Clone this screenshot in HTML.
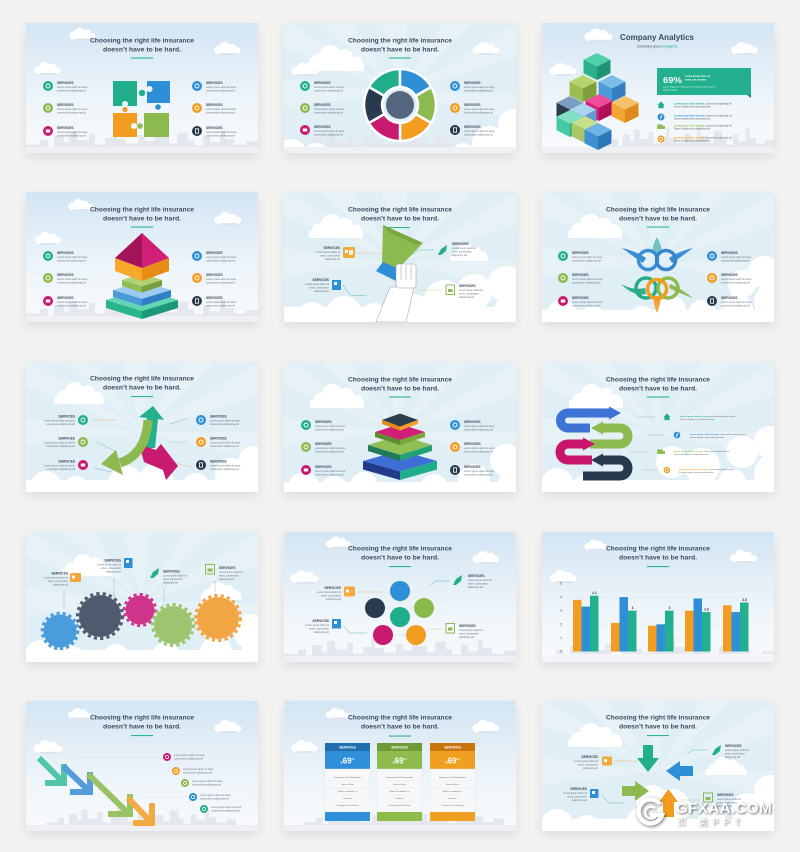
<!DOCTYPE html>
<html><head><meta charset="utf-8">
<style>
html,body{margin:0;padding:0}
body{width:800px;height:852px;background:#f2f2f2;position:relative;overflow:hidden;font-family:"Liberation Sans",sans-serif}
.s{position:absolute;width:232px;height:130px;box-shadow:0 4px 10px rgba(0,0,0,.09);overflow:hidden;background:#fff}
.s svg{display:block}
text{font-family:"Liberation Sans","Noto Sans CJK SC",sans-serif}
.tt{font-size:6.4px;font-weight:bold;fill:#3d4a5d;text-anchor:middle}
.sv{font-size:3.3px;font-weight:bold;fill:#3a4658}
.lo{font-size:2.5px;fill:#6b7380}
.svr{font-size:3.3px;font-weight:bold;fill:#3a4658;text-anchor:end}
.lor{font-size:2.5px;fill:#6b7380;text-anchor:end}
.bw{font-size:2.4px;fill:#fff}
</style></head><body>

<svg width="0" height="0" style="position:absolute">
<defs>
<linearGradient id="sky" x1="0" y1="0" x2="0" y2="1"><stop offset="0" stop-color="#d3e5f3"/><stop offset=".6" stop-color="#eef5fa"/><stop offset="1" stop-color="#f9fafc"/></linearGradient>
<symbol id="cloud" viewBox="0 0 40 16">
<ellipse cx="21" cy="13.5" rx="17" ry="2.5" fill="#dde3ea"/>
<circle cx="9" cy="10" r="5" fill="#fff"/><circle cx="17" cy="7" r="7" fill="#fff"/><circle cx="26" cy="7.5" r="5.5" fill="#fff"/><circle cx="33" cy="10.5" r="4" fill="#fff"/>
<rect x="8" y="9" width="27" height="4.5" fill="#fff"/>
</symbol>
<symbol id="wcloud" viewBox="0 0 40 16">
<circle cx="9" cy="11" r="5" fill="#fff"/><circle cx="17" cy="7" r="7" fill="#fff"/><circle cx="26" cy="8" r="5.5" fill="#fff"/><circle cx="33" cy="11" r="4" fill="#fff"/>
<rect x="2" y="11" width="36" height="5" fill="#fff"/>
</symbol>
<symbol id="city" viewBox="0 0 232 30" preserveAspectRatio="none"><g fill="#e4e8ee">
<rect x="0" y="22" width="14" height="8"/><rect x="14" y="18" width="8" height="12"/><rect x="22" y="24" width="6" height="6"/><rect x="28" y="14" width="10" height="16"/><rect x="38" y="20" width="5" height="10"/><rect x="43" y="10" width="8" height="20"/><rect x="51" y="18" width="12" height="12"/><rect x="63" y="12" width="6" height="18"/><rect x="69" y="22" width="10" height="8"/><rect x="79" y="16" width="8" height="14"/><rect x="87" y="8" width="4" height="22"/><rect x="91" y="17" width="9" height="13"/><rect x="100" y="21" width="12" height="9"/><rect x="112" y="13" width="7" height="17"/><rect x="119" y="19" width="9" height="11"/><rect x="128" y="6" width="5" height="24"/><rect x="133" y="15" width="10" height="15"/><rect x="143" y="21" width="8" height="9"/><rect x="151" y="11" width="11" height="19"/><rect x="162" y="18" width="6" height="12"/><rect x="168" y="23" width="9" height="7"/><rect x="177" y="14" width="7" height="16"/><rect x="184" y="20" width="10" height="10"/><rect x="194" y="9" width="5" height="21"/><rect x="199" y="17" width="9" height="13"/><rect x="208" y="22" width="12" height="8"/><rect x="220" y="19" width="12" height="11"/>
</g></symbol>
<symbol id="rays" viewBox="0 0 232 130">
<rect width="232" height="130" fill="#e0eef5"/>
<g fill="#f2f8fb" opacity=".4"><polygon points="116,70 -10,-10 -10,20"/><polygon points="116,70 25,-10 60,-10"/><polygon points="116,70 95,-10 125,-10"/><polygon points="116,70 165,-10 200,-10"/><polygon points="116,70 242,-5 242,30"/><polygon points="116,70 242,70 242,100"/><polygon points="116,70 -10,55 -10,85"/></g>
</symbol>
<symbol id="bc" viewBox="0 0 232 130"><g fill="#fff">
<circle cx="8" cy="130" r="14"/><circle cx="32" cy="134" r="14"/><circle cx="60" cy="136" r="12"/><circle cx="180" cy="134" r="14"/><circle cx="205" cy="120" r="17"/><circle cx="230" cy="102" r="16"/><circle cx="232" cy="126" r="18"/>
</g></symbol>
</defs>
</svg>

<!-- ROW 1 -->
<div class="s" style="left:26px;top:23px"><svg width="232" height="130" viewBox="0 0 232 130">
<rect width="232" height="130" fill="url(#sky)"/>
<use href="#city" x="0" y="98" width="232" height="32"/>
<rect y="124" width="232" height="6" fill="#eef0f4"/>
<use href="#cloud" x="40" y="4" width="32" height="14"/>
<use href="#cloud" x="183" y="19" width="36" height="13"/>
<use href="#cloud" x="3" y="39" width="36" height="13"/>
<text x="116" y="19.5" class="tt" textLength="104" lengthAdjust="spacingAndGlyphs">Choosing the right life insurance</text>
<text x="116" y="28.5" class="tt" textLength="78" lengthAdjust="spacingAndGlyphs">doesn’t have to be hard.</text>
<rect x="105" y="34.5" width="22" height="1.1" fill="#2bb39b"/>
<g transform="translate(22,63)"><circle r="5" fill="#21ae8c"/><circle r="2" fill="none" stroke="#fff" stroke-width=".9"/><text x="9" y="-1.8" class="sv">SERVICES</text><text x="9" y="2" class="lo">Lorem ipsum dolor sit amet,</text><text x="9" y="5.5" class="lo">consectetur adipiscing elit</text></g>
<g transform="translate(22,85)"><circle r="5" fill="#8cba4e"/><circle r="2" fill="none" stroke="#fff" stroke-width=".9"/><text x="9" y="-1.8" class="sv">SERVICES</text><text x="9" y="2" class="lo">Lorem ipsum dolor sit amet,</text><text x="9" y="5.5" class="lo">consectetur adipiscing elit</text></g>
<g transform="translate(22,108)"><circle r="5" fill="#c81a6e"/><rect x="-2.2" y="-1.5" width="4.4" height="3" fill="#fff"/><text x="9" y="-1.8" class="sv">SERVICES</text><text x="9" y="2" class="lo">Lorem ipsum dolor sit amet,</text><text x="9" y="5.5" class="lo">consectetur adipiscing elit</text></g>
<g transform="translate(171,63)"><circle r="5" fill="#2e8fd6"/><circle r="2" fill="none" stroke="#fff" stroke-width=".9"/><text x="9" y="-1.8" class="sv">SERVICES</text><text x="9" y="2" class="lo">Lorem ipsum dolor sit amet,</text><text x="9" y="5.5" class="lo">consectetur adipiscing elit</text></g>
<g transform="translate(171,85)"><circle r="5" fill="#f29c20"/><circle r="2" fill="none" stroke="#fff" stroke-width=".9"/><text x="9" y="-1.8" class="sv">SERVICES</text><text x="9" y="2" class="lo">Lorem ipsum dolor sit amet,</text><text x="9" y="5.5" class="lo">consectetur adipiscing elit</text></g>
<g transform="translate(171,108)"><circle r="5" fill="#263548"/><rect x="-1.6" y="-2.2" width="3.2" height="4.4" fill="none" stroke="#fff" stroke-width=".8"/><text x="9" y="-1.8" class="sv">SERVICES</text><text x="9" y="2" class="lo">Lorem ipsum dolor sit amet,</text><text x="9" y="5.5" class="lo">consectetur adipiscing elit</text></g>
<rect x="87" y="58" width="24" height="25" fill="#21ae8c"/>
<rect x="121" y="58" width="23" height="22" fill="#2e8fd6"/>
<rect x="87" y="90" width="24" height="24" fill="#f29c20"/>
<rect x="118" y="90" width="25" height="24" fill="#8cba4e"/>
<circle cx="116" cy="70" r="3.2" fill="#21ae8c"/>
<circle cx="123.5" cy="66" r="3" fill="#f2f7fb"/>
<circle cx="132" cy="84" r="2.8" fill="#2e8fd6"/>
<circle cx="99" cy="81" r="3" fill="#f2f7fb"/>
<circle cx="99" cy="86.5" r="2.6" fill="#f29c20"/>
<circle cx="108" cy="103" r="3" fill="#f7f9fb"/>
<circle cx="114" cy="103" r="2.8" fill="#8cba4e"/>
</svg></div>

<div class="s" style="left:284px;top:23px"><svg width="232" height="130" viewBox="0 0 232 130">
<use href="#rays" width="232" height="130"/>
<use href="#wcloud" x="18" y="22" width="66" height="26"/>
<use href="#cloud" x="184" y="19" width="35" height="13"/>
<use href="#cloud" x="4" y="40" width="33" height="13"/>
<use href="#city" x="0" y="100" width="232" height="30"/>
<use href="#bc" width="232" height="130"/>
<rect y="124" width="232" height="6" fill="#eff2f5"/>
<text x="116" y="19.5" class="tt" textLength="104" lengthAdjust="spacingAndGlyphs">Choosing the right life insurance</text>
<text x="116" y="28.5" class="tt" textLength="78" lengthAdjust="spacingAndGlyphs">doesn’t have to be hard.</text>
<rect x="105" y="34.5" width="22" height="1.1" fill="#2bb39b"/>
<g transform="translate(21,63)"><circle r="5" fill="#21ae8c"/><circle r="2" fill="none" stroke="#fff" stroke-width=".9"/><text x="9" y="-1.8" class="sv">SERVICES</text><text x="9" y="2" class="lo">Lorem ipsum dolor sit amet,</text><text x="9" y="5.5" class="lo">consectetur adipiscing elit</text></g>
<g transform="translate(21,85)"><circle r="5" fill="#8cba4e"/><circle r="2" fill="none" stroke="#fff" stroke-width=".9"/><text x="9" y="-1.8" class="sv">SERVICES</text><text x="9" y="2" class="lo">Lorem ipsum dolor sit amet,</text><text x="9" y="5.5" class="lo">consectetur adipiscing elit</text></g>
<g transform="translate(21,107)"><circle r="5" fill="#c81a6e"/><rect x="-2.2" y="-1.5" width="4.4" height="3" fill="#fff"/><text x="9" y="-1.8" class="sv">SERVICES</text><text x="9" y="2" class="lo">Lorem ipsum dolor sit amet,</text><text x="9" y="5.5" class="lo">consectetur adipiscing elit</text></g>
<g transform="translate(171,63)"><circle r="5" fill="#2e8fd6"/><circle r="2" fill="none" stroke="#fff" stroke-width=".9"/><text x="9" y="-1.8" class="sv">SERVICES</text><text x="9" y="2" class="lo">Lorem ipsum dolor sit amet,</text><text x="9" y="5.5" class="lo">consectetur adipiscing elit</text></g>
<g transform="translate(171,85)"><circle r="5" fill="#f29c20"/><circle r="2" fill="none" stroke="#fff" stroke-width=".9"/><text x="9" y="-1.8" class="sv">SERVICES</text><text x="9" y="2" class="lo">Lorem ipsum dolor sit amet,</text><text x="9" y="5.5" class="lo">consectetur adipiscing elit</text></g>
<g transform="translate(171,107)"><circle r="5" fill="#263548"/><rect x="-1.6" y="-2.2" width="3.2" height="4.4" fill="none" stroke="#fff" stroke-width=".8"/><text x="9" y="-1.8" class="sv">SERVICES</text><text x="9" y="2" class="lo">Lorem ipsum dolor sit amet,</text><text x="9" y="5.5" class="lo">consectetur adipiscing elit</text></g>
<g stroke="#fff" stroke-width="2.5" stroke-linejoin="round">
<path d="M84.82 64 A36 36 0 0 1 116 46 L116 64 A18 18 0 0 0 100.41 73 Z" fill="#21ae8c"/>
<path d="M116 46 A36 36 0 0 1 147.18 64 L131.59 73 A18 18 0 0 0 116 64 Z" fill="#2e8fd6"/>
<path d="M147.18 64 A36 36 0 0 1 147.18 100 L131.59 91 A18 18 0 0 0 131.59 73 Z" fill="#8cba4e"/>
<path d="M147.18 100 A36 36 0 0 1 116 118 L116 100 A18 18 0 0 0 131.59 91 Z" fill="#f29c20"/>
<path d="M116 118 A36 36 0 0 1 84.82 100 L100.41 91 A18 18 0 0 0 116 100 Z" fill="#c81a6e"/>
<path d="M84.82 100 A36 36 0 0 1 84.82 64 L100.41 73 A18 18 0 0 0 100.41 91 Z" fill="#2a3a4e"/>
</g>
<circle cx="116" cy="82" r="14" fill="#56657e"/>
</svg></div>

<div class="s" style="left:542px;top:23px"><svg width="232" height="130" viewBox="0 0 232 130">
<rect width="232" height="130" fill="url(#sky)"/>
<use href="#city" x="60" y="95" width="172" height="35"/>
<rect y="124" width="232" height="6" fill="#eef0f4"/>
<use href="#cloud" x="39" y="5" width="34" height="14"/>
<use href="#cloud" x="185" y="19" width="34" height="13"/>
<use href="#cloud" x="3" y="40" width="35" height="13"/>
<text x="115" y="17" font-size="8.6" font-weight="bold" fill="#3b4a5e" text-anchor="middle" textLength="74" lengthAdjust="spacingAndGlyphs">Company Analytics</text>
<text x="115" y="24.5" font-size="3.2" text-anchor="middle" fill="#555"><tspan>Something about </tspan><tspan fill="#21ae8c">infographic</tspan></text>
<g transform="translate(55,30)"><polygon points="0,0 13.5,6.75 0,13.5 -13.5,6.75" fill="#4fd0a8"/><polygon points="-13.5,6.75 0,13.5 0,27 -13.5,20.25" fill="#2bb08a"/><polygon points="0,13.5 13.5,6.75 13.5,20.25 0,27" fill="#1e9475"/></g>
<g transform="translate(41,52)"><polygon points="0,0 13.5,6.75 0,13.5 -13.5,6.75" fill="#b5d36e"/><polygon points="-13.5,6.75 0,13.5 0,27 -13.5,20.25" fill="#9abd50"/><polygon points="0,13.5 13.5,6.75 13.5,20.25 0,27" fill="#7f9f3c"/></g>
<g transform="translate(70,52)"><polygon points="0,0 13.5,6.75 0,13.5 -13.5,6.75" fill="#7bbce8"/><polygon points="-13.5,6.75 0,13.5 0,27 -13.5,20.25" fill="#4a9bd8"/><polygon points="0,13.5 13.5,6.75 13.5,20.25 0,27" fill="#347fc0"/></g>
<g transform="translate(28,73)"><polygon points="0,0 13.5,6.75 0,13.5 -13.5,6.75" fill="#7d9cc2"/><polygon points="-13.5,6.75 0,13.5 0,27 -13.5,20.25" fill="#2a3a4f"/><polygon points="0,13.5 13.5,6.75 13.5,20.25 0,27" fill="#55749c"/></g>
<g transform="translate(57,71)"><polygon points="0,0 13.5,6.75 0,13.5 -13.5,6.75" fill="#ef4b9a"/><polygon points="-13.5,6.75 0,13.5 0,27 -13.5,20.25" fill="#d81b72"/><polygon points="0,13.5 13.5,6.75 13.5,20.25 0,27" fill="#b0105a"/></g>
<g transform="translate(83,73)"><polygon points="0,0 13.5,6.75 0,13.5 -13.5,6.75" fill="#f7c06a"/><polygon points="-13.5,6.75 0,13.5 0,27 -13.5,20.25" fill="#f2a532"/><polygon points="0,13.5 13.5,6.75 13.5,20.25 0,27" fill="#e08a1a"/></g>
<g transform="translate(41,80)"><polygon points="0,0 13.5,6.75 0,13.5 -13.5,6.75" fill="#a9d4f2"/><polygon points="-13.5,6.75 0,13.5 0,27 -13.5,20.25" fill="#7cb7e3"/><polygon points="0,13.5 13.5,6.75 13.5,20.25 0,27" fill="#5e9dcf"/></g>
<g transform="translate(28,87)"><polygon points="0,0 13.5,6.75 0,13.5 -13.5,6.75" fill="#7fe0c2"/><polygon points="-13.5,6.75 0,13.5 0,27 -13.5,20.25" fill="#45c9a2"/><polygon points="0,13.5 13.5,6.75 13.5,20.25 0,27" fill="#2faa86"/></g>
<g transform="translate(43,93)"><polygon points="0,0 13.5,6.75 0,13.5 -13.5,6.75" fill="#c8df8e"/><polygon points="-13.5,6.75 0,13.5 0,27 -13.5,20.25" fill="#a9c865"/><polygon points="0,13.5 13.5,6.75 13.5,20.25 0,27" fill="#8aab4a"/></g>
<g transform="translate(56,100)"><polygon points="0,0 13.5,6.75 0,13.5 -13.5,6.75" fill="#6fb2e6"/><polygon points="-13.5,6.75 0,13.5 0,27 -13.5,20.25" fill="#3f90d3"/><polygon points="0,13.5 13.5,6.75 13.5,20.25 0,27" fill="#2c77ba"/></g>
<rect x="115" y="45" width="94" height="27" fill="#22b08e"/>
<polygon points="205,72 209,72 209,75" fill="#178a6e"/>
<text x="121" y="60" font-size="8" font-weight="bold" fill="#fff" textLength="19" lengthAdjust="spacingAndGlyphs">69%</text>
<text x="143" y="54" class="bw" font-weight="bold">Lorem ipsum dolor sit</text>
<text x="143" y="57.5" class="bw" font-weight="bold">amet, con sectetur</text>
<text x="121" y="64.5" font-size="2" fill="#fff">Donec fringilla erat malesuada ante tristique ullamcorper id</text>
<text x="121" y="67.5" font-size="2" fill="#fff">vulputate augue.</text>
<g transform="translate(119,82)"><polygon points="-3.5,0 0,-3.5 3.5,0" fill="#21ae8c"/><rect x="-2.6" y="0" width="5.2" height="3.2" fill="#21ae8c"/></g>
<g transform="translate(119,94)"><circle r="3.5" fill="#2e8fd6"/><line x1="-1" y1="2" x2="1" y2="-2" stroke="#fff" stroke-width=".9"/></g>
<g transform="translate(119,104)"><rect x="-3.8" y="-2.5" width="5.5" height="4.5" fill="#8cba4e"/><rect x="1.7" y="-1" width="2.3" height="3" fill="#8cba4e"/></g>
<g transform="translate(119,116)"><circle r="3.5" fill="#f29c20"/><circle r="1.6" fill="none" stroke="#fff" stroke-width=".7"/></g>
<text x="132" y="81.5" font-size="2.3"><tspan fill="#21ae8c" font-weight="bold">Lorem ipsum dolor sit amet,</tspan><tspan fill="#666"> consectetur adipiscing elit.</tspan></text>
<text x="132" y="84.5" font-size="2.3" fill="#666">Donec fringilla erat malesuada ante.</text>
<text x="132" y="93.5" font-size="2.3"><tspan fill="#2e8fd6" font-weight="bold">Lorem ipsum dolor sit amet,</tspan><tspan fill="#666"> consectetur adipiscing elit.</tspan></text>
<text x="132" y="96.5" font-size="2.3" fill="#666">Donec fringilla erat malesuada ante.</text>
<text x="132" y="103.5" font-size="2.3"><tspan fill="#8cba4e" font-weight="bold">Lorem ipsum dolor sit amet,</tspan><tspan fill="#666"> consectetur adipiscing elit.</tspan></text>
<text x="132" y="106.5" font-size="2.3" fill="#666">Donec fringilla erat malesuada ante.</text>
<text x="132" y="115.5" font-size="2.3"><tspan fill="#f29c20" font-weight="bold">Lorem ipsum dolor sit amet,</tspan><tspan fill="#666"> consectetur adipiscing elit.</tspan></text>
<text x="132" y="118.5" font-size="2.3" fill="#666">Donec fringilla erat malesuada ante.</text>
</svg></div>

<!-- ROW 2 -->
<div class="s" style="left:26px;top:192px"><svg width="232" height="130" viewBox="0 0 232 130">
<rect width="232" height="130" fill="url(#sky)"/>
<use href="#city" x="0" y="98" width="232" height="32"/>
<rect y="124" width="232" height="6" fill="#eef0f4"/>
<use href="#cloud" x="39" y="6" width="30" height="14"/>
<use href="#cloud" x="184" y="20" width="35" height="13"/>
<use href="#cloud" x="4" y="40" width="35" height="13"/>
<text x="116" y="19.5" class="tt" textLength="104" lengthAdjust="spacingAndGlyphs">Choosing the right life insurance</text>
<text x="116" y="28.5" class="tt" textLength="78" lengthAdjust="spacingAndGlyphs">doesn’t have to be hard.</text>
<rect x="105" y="34.5" width="22" height="1.1" fill="#2bb39b"/>
<g transform="translate(22,64)"><circle r="5" fill="#21ae8c"/><circle r="2" fill="none" stroke="#fff" stroke-width=".9"/><text x="9" y="-1.8" class="sv">SERVICES</text><text x="9" y="2" class="lo">Lorem ipsum dolor sit amet,</text><text x="9" y="5.5" class="lo">consectetur adipiscing elit</text></g>
<g transform="translate(22,86)"><circle r="5" fill="#8cba4e"/><circle r="2" fill="none" stroke="#fff" stroke-width=".9"/><text x="9" y="-1.8" class="sv">SERVICES</text><text x="9" y="2" class="lo">Lorem ipsum dolor sit amet,</text><text x="9" y="5.5" class="lo">consectetur adipiscing elit</text></g>
<g transform="translate(22,109)"><circle r="5" fill="#c81a6e"/><rect x="-2.2" y="-1.5" width="4.4" height="3" fill="#fff"/><text x="9" y="-1.8" class="sv">SERVICES</text><text x="9" y="2" class="lo">Lorem ipsum dolor sit amet,</text><text x="9" y="5.5" class="lo">consectetur adipiscing elit</text></g>
<g transform="translate(171,64)"><circle r="5" fill="#2e8fd6"/><circle r="2" fill="none" stroke="#fff" stroke-width=".9"/><text x="9" y="-1.8" class="sv">SERVICES</text><text x="9" y="2" class="lo">Lorem ipsum dolor sit amet,</text><text x="9" y="5.5" class="lo">consectetur adipiscing elit</text></g>
<g transform="translate(171,86)"><circle r="5" fill="#f29c20"/><circle r="2" fill="none" stroke="#fff" stroke-width=".9"/><text x="9" y="-1.8" class="sv">SERVICES</text><text x="9" y="2" class="lo">Lorem ipsum dolor sit amet,</text><text x="9" y="5.5" class="lo">consectetur adipiscing elit</text></g>
<g transform="translate(171,109)"><circle r="5" fill="#263548"/><rect x="-1.6" y="-2.2" width="3.2" height="4.4" fill="none" stroke="#fff" stroke-width=".8"/><text x="9" y="-1.8" class="sv">SERVICES</text><text x="9" y="2" class="lo">Lorem ipsum dolor sit amet,</text><text x="9" y="5.5" class="lo">consectetur adipiscing elit</text></g>
<polygon points="80,108 116,97 152,108 116,119" fill="#63d6b4"/>
<polygon points="80,108 116,119 116,127 80,116" fill="#2ab48c"/>
<polygon points="116,119 152,108 152,116 116,127" fill="#1b977a"/>
<polygon points="87,98 116,89 145,98 116,107" fill="#9ccbee"/>
<polygon points="87,98 116,107 116,114 87,105" fill="#4a9ad9"/>
<polygon points="116,107 145,98 145,105 116,114" fill="#2f7fc4"/>
<polygon points="96,88 116,81.5 136,88 116,94.5" fill="#b2d173"/>
<polygon points="96,88 116,94.5 116,100.5 96,94" fill="#93bb54"/>
<polygon points="116,94.5 136,88 136,94 116,100.5" fill="#76a03f"/>
<polygon points="89,66 116,76 116,89 89,79" fill="#f6a929"/>
<polygon points="116,76 143,66 143,79 116,89" fill="#e58d17"/>
<polygon points="116,41 89,66 116,76" fill="#a3145a"/>
<polygon points="116,41 116,76 143,66" fill="#cf1f76"/>
</svg></div>

<div class="s" style="left:284px;top:192px"><svg width="232" height="130" viewBox="0 0 232 130">
<use href="#rays" width="232" height="130"/>
<use href="#wcloud" x="20" y="22" width="64" height="24"/>
<use href="#wcloud" x="162" y="52" width="46" height="17"/>
<g fill="#fff"><circle cx="160" cy="108" r="20"/><circle cx="190" cy="100" r="18"/><circle cx="222" cy="92" r="18"/><circle cx="230" cy="120" r="20"/><circle cx="130" cy="118" r="16"/><circle cx="60" cy="122" r="18"/><circle cx="28" cy="126" r="16"/><circle cx="90" cy="125" r="14"/><rect x="0" y="115" width="232" height="15"/></g>
<text x="116" y="19.5" class="tt" textLength="104" lengthAdjust="spacingAndGlyphs">Choosing the right life insurance</text>
<text x="116" y="28.5" class="tt" textLength="78" lengthAdjust="spacingAndGlyphs">doesn’t have to be hard.</text>
<rect x="100" y="35" width="26" height="1.1" fill="#2bb39b"/>
<polygon points="99,33 139,51 114,77 98,73" fill="#8cba4e"/>
<polygon points="99,33 139,51 132,53 104,40" fill="#7aa840"/>
<polygon points="92,79 99,70 132,84 126,96" fill="#2e8fd6"/>
<g fill="#fff" stroke="#8d97a6" stroke-width=".5">
<path d="M106,95 L130,95 L122,130 L92,130 Z"/>
<rect x="112" y="72" width="20" height="24" rx="3"/>
<path d="M117,73 V88 M122,73 V88 M127,73 V88" fill="none"/>
</g>
<text x="56" y="57" class="svr">SERVICES</text>
<text x="56" y="61" class="lor">Lorem ipsum dolor sit</text><text x="56" y="64.5" class="lor">amet, consectetur</text><text x="56" y="68" class="lor">adipiscing elit</text>
<rect x="59" y="55" width="12" height="11" rx="1.5" fill="#f2a93a"/><rect x="61" y="58" width="3" height="3" fill="#fff"/><rect x="65" y="58" width="4" height="5" fill="#fff" opacity=".8"/>
<line x1="73" y1="61" x2="98" y2="61" stroke="#e9b36a" stroke-width=".4"/>
<text x="45" y="89" class="svr">SERVICES</text>
<text x="45" y="93" class="lor">Lorem ipsum dolor sit</text><text x="45" y="96.5" class="lor">amet, consectetur</text><text x="45" y="100" class="lor">adipiscing elit</text>
<rect x="48" y="88" width="9" height="10" fill="#2e8fd6"/><rect x="50" y="90" width="3" height="3" fill="#fff"/>
<polyline points="59,93 66,103 83,104" fill="none" stroke="#3aa9a0" stroke-width=".4"/>
<polygon points="154,63 157,57 163,53 162,59 157,63" fill="#21ae8c"/>
<text x="168" y="53" class="sv">SERVICES</text>
<text x="168" y="57" class="lo">Lorem ipsum dolor sit</text><text x="168" y="60.5" class="lo">amet, consectetur</text><text x="168" y="64" class="lo">adipiscing elit</text>
<polyline points="129,63 134,58 150,58" fill="none" stroke="#3aa9a0" stroke-width=".4"/>
<rect x="162" y="93" width="8.5" height="9.5" fill="none" stroke="#8cba4e" stroke-width="1"/><rect x="164" y="97" width="4.5" height="3" fill="#8cba4e"/>
<text x="175" y="95" class="sv">SERVICES</text>
<text x="175" y="99" class="lo">Lorem ipsum dolor sit</text><text x="175" y="102.5" class="lo">amet, consectetur</text><text x="175" y="106" class="lo">adipiscing elit</text>
<line x1="134" y1="98" x2="158" y2="98" stroke="#b5c96a" stroke-width=".4"/>
</svg></div>

<div class="s" style="left:542px;top:192px"><svg width="232" height="130" viewBox="0 0 232 130">
<use href="#rays" width="232" height="130"/>
<use href="#wcloud" x="20" y="22" width="66" height="24"/>
<g fill="#fff"><circle cx="200" cy="92" r="14"/><circle cx="222" cy="80" r="16"/><circle cx="232" cy="110" r="20"/><circle cx="195" cy="118" r="16"/><circle cx="160" cy="122" r="14"/><circle cx="20" cy="124" r="16"/><circle cx="50" cy="128" r="14"/><circle cx="100" cy="128" r="14"/><circle cx="130" cy="118" r="14"/><rect x="0" y="118" width="232" height="12"/></g>
<text x="116" y="19.5" class="tt" textLength="104" lengthAdjust="spacingAndGlyphs">Choosing the right life insurance</text>
<text x="116" y="28.5" class="tt" textLength="78" lengthAdjust="spacingAndGlyphs">doesn’t have to be hard.</text>
<rect x="105" y="34.5" width="22" height="1.1" fill="#2bb39b"/>
<g transform="translate(21,64)"><circle r="5" fill="#21ae8c"/><circle r="2" fill="none" stroke="#fff" stroke-width=".9"/><text x="9" y="-1.8" class="sv">SERVICES</text><text x="9" y="2" class="lo">Lorem ipsum dolor sit amet,</text><text x="9" y="5.5" class="lo">consectetur adipiscing elit</text></g>
<g transform="translate(21,86)"><circle r="5" fill="#8cba4e"/><circle r="2" fill="none" stroke="#fff" stroke-width=".9"/><text x="9" y="-1.8" class="sv">SERVICES</text><text x="9" y="2" class="lo">Lorem ipsum dolor sit amet,</text><text x="9" y="5.5" class="lo">consectetur adipiscing elit</text></g>
<g transform="translate(21,109)"><circle r="5" fill="#c81a6e"/><rect x="-2.2" y="-1.5" width="4.4" height="3" fill="#fff"/><text x="9" y="-1.8" class="sv">SERVICES</text><text x="9" y="2" class="lo">Lorem ipsum dolor sit amet,</text><text x="9" y="5.5" class="lo">consectetur adipiscing elit</text></g>
<g transform="translate(170,64)"><circle r="5" fill="#2e8fd6"/><circle r="2" fill="none" stroke="#fff" stroke-width=".9"/><text x="9" y="-1.8" class="sv">SERVICES</text><text x="9" y="2" class="lo">Lorem ipsum dolor sit amet,</text><text x="9" y="5.5" class="lo">consectetur adipiscing elit</text></g>
<g transform="translate(170,86)"><circle r="5" fill="#f29c20"/><circle r="2" fill="none" stroke="#fff" stroke-width=".9"/><text x="9" y="-1.8" class="sv">SERVICES</text><text x="9" y="2" class="lo">Lorem ipsum dolor sit amet,</text><text x="9" y="5.5" class="lo">consectetur adipiscing elit</text></g>
<g transform="translate(170,109)"><circle r="5" fill="#263548"/><rect x="-1.6" y="-2.2" width="3.2" height="4.4" fill="none" stroke="#fff" stroke-width=".8"/><text x="9" y="-1.8" class="sv">SERVICES</text><text x="9" y="2" class="lo">Lorem ipsum dolor sit amet,</text><text x="9" y="5.5" class="lo">consectetur adipiscing elit</text></g>
<path d="M104,66 C95,60 88,58 80,56 C88,62 95,67 101,71 Z" fill="#3a8fd4"/>
<path d="M127,66 C136,60 143,58 151,56 C143,62 136,67 130,71 Z" fill="#3a8fd4"/>
<path d="M115,45 C111,52 110,57 111,62 L119,62 C120,57 119,52 115,45 Z" fill="#6ec3c0"/>
<path d="M103,96 C94,98 86,96 79,92 C87,100 96,104 104,102 Z" fill="#2bb08c"/>
<path d="M127,96 C136,100 144,104 151,106 C143,100 136,95 128,92 Z" fill="#8cba4e"/>
<path d="M115,121 C112,113 111,109 112,104 L118,104 C119,109 118,113 115,121 Z" fill="#f2a33a"/>
<g fill="none" stroke-width="3.5">
<circle cx="106" cy="68" r="9.5" stroke="#3a8fd4"/>
<circle cx="124" cy="68" r="9.5" stroke="#3585cc"/>
<circle cx="104" cy="96" r="10" stroke="#26ab8a"/>
<circle cx="126" cy="96" r="10" stroke="#8cba4e"/>
<circle cx="115" cy="97" r="9.5" stroke="#f29c20"/>
</g>
</svg></div>

<!-- ROW 3 -->
<div class="s" style="left:26px;top:362px"><svg width="232" height="130" viewBox="0 0 232 130">
<use href="#rays" width="232" height="130"/>
<use href="#wcloud" x="22" y="20" width="62" height="22"/>
<g fill="#fff"><circle cx="20" cy="125" r="16"/><circle cx="50" cy="128" r="14"/><circle cx="100" cy="122" r="18"/><circle cx="130" cy="120" r="18"/><circle cx="170" cy="125" r="14"/><circle cx="205" cy="112" r="16"/><circle cx="228" cy="100" r="16"/><circle cx="232" cy="124" r="18"/><rect x="0" y="118" width="232" height="12"/></g>
<text x="116" y="18.5" class="tt" textLength="104" lengthAdjust="spacingAndGlyphs">Choosing the right life insurance</text>
<text x="116" y="27.5" class="tt" textLength="78" lengthAdjust="spacingAndGlyphs">doesn’t have to be hard.</text>
<rect x="105" y="34" width="22" height="1.1" fill="#2bb39b"/>
<g transform="translate(57,58)"><circle r="5" fill="#21ae8c"/><circle r="2" fill="none" stroke="#fff" stroke-width=".9"/><text x="-8" y="-2.5" class="svr">SERVICES</text><text x="-8" y="1.5" class="lor">Lorem ipsum dolor sit amet,</text><text x="-8" y="5" class="lor">consectetur adipiscing elit</text></g>
<g transform="translate(57,80)"><circle r="5" fill="#8cba4e"/><circle r="2" fill="none" stroke="#fff" stroke-width=".9"/><text x="-8" y="-2.5" class="svr">SERVICES</text><text x="-8" y="1.5" class="lor">Lorem ipsum dolor sit amet,</text><text x="-8" y="5" class="lor">consectetur adipiscing elit</text></g>
<g transform="translate(57,103)"><circle r="5" fill="#c81a6e"/><rect x="-2.2" y="-1.5" width="4.4" height="3" fill="#fff"/><text x="-8" y="-2.5" class="svr">SERVICES</text><text x="-8" y="1.5" class="lor">Lorem ipsum dolor sit amet,</text><text x="-8" y="5" class="lor">consectetur adipiscing elit</text></g>
<g transform="translate(175,58)"><circle r="5" fill="#2e8fd6"/><circle r="2" fill="none" stroke="#fff" stroke-width=".9"/><text x="9" y="-2.5" class="sv">SERVICES</text><text x="9" y="1.5" class="lo">Lorem ipsum dolor sit amet,</text><text x="9" y="5" class="lo">consectetur adipiscing elit</text></g>
<g transform="translate(175,80)"><circle r="5" fill="#f29c20"/><circle r="2" fill="none" stroke="#fff" stroke-width=".9"/><text x="9" y="-2.5" class="sv">SERVICES</text><text x="9" y="1.5" class="lo">Lorem ipsum dolor sit amet,</text><text x="9" y="5" class="lo">consectetur adipiscing elit</text></g>
<g transform="translate(175,103)"><circle r="5" fill="#263548"/><rect x="-1.6" y="-2.2" width="3.2" height="4.4" fill="none" stroke="#fff" stroke-width=".8"/><text x="9" y="-2.5" class="sv">SERVICES</text><text x="9" y="1.5" class="lo">Lorem ipsum dolor sit amet,</text><text x="9" y="5" class="lo">consectetur adipiscing elit</text></g>
<g stroke-width=".4" fill="none">
<line x1="67" y1="58" x2="91" y2="58" stroke="#e0b070"/>
<line x1="71" y1="80" x2="91" y2="90" stroke="#7ab"/>
<line x1="67" y1="106" x2="86" y2="110" stroke="#7ab"/>
<line x1="144" y1="62" x2="162" y2="56" stroke="#7ab"/>
<line x1="141" y1="80" x2="162" y2="80" stroke="#9c9"/>
<line x1="134" y1="98" x2="166" y2="105" stroke="#e0b070"/>
</g>
<polygon points="127,44 138,58 132,57 129,86 117,86 121,56 113,55" fill="#23b08e"/>
<polygon points="113,82 130,88 135,82 152,104 140,118 137,108 118,100" fill="#c81a6e"/>
<path d="M122,58 Q120,92 94,101" fill="none" stroke="#8cba4e" stroke-width="9"/>
<polygon points="90,88 75,102 97,113" fill="#8cba4e"/>
</svg></div>

<div class="s" style="left:284px;top:362px"><svg width="232" height="130" viewBox="0 0 232 130">
<use href="#rays" width="232" height="130"/>
<use href="#wcloud" x="20" y="22" width="66" height="24"/>
<g fill="#fff"><circle cx="20" cy="126" r="16"/><circle cx="50" cy="128" r="14"/><circle cx="80" cy="124" r="14"/><circle cx="150" cy="126" r="14"/><circle cx="190" cy="118" r="16"/><circle cx="222" cy="98" r="16"/><circle cx="232" cy="122" r="18"/><rect x="0" y="120" width="232" height="10"/></g>
<text x="116" y="19.5" class="tt" textLength="104" lengthAdjust="spacingAndGlyphs">Choosing the right life insurance</text>
<text x="116" y="28.5" class="tt" textLength="78" lengthAdjust="spacingAndGlyphs">doesn’t have to be hard.</text>
<rect x="105" y="34.5" width="22" height="1.1" fill="#2bb39b"/>
<g transform="translate(22,63)"><circle r="5" fill="#21ae8c"/><circle r="2" fill="none" stroke="#fff" stroke-width=".9"/><text x="9" y="-1.8" class="sv">SERVICES</text><text x="9" y="2" class="lo">Lorem ipsum dolor sit amet,</text><text x="9" y="5.5" class="lo">consectetur adipiscing elit</text></g>
<g transform="translate(22,85)"><circle r="5" fill="#8cba4e"/><circle r="2" fill="none" stroke="#fff" stroke-width=".9"/><text x="9" y="-1.8" class="sv">SERVICES</text><text x="9" y="2" class="lo">Lorem ipsum dolor sit amet,</text><text x="9" y="5.5" class="lo">consectetur adipiscing elit</text></g>
<g transform="translate(22,108)"><circle r="5" fill="#c81a6e"/><rect x="-2.2" y="-1.5" width="4.4" height="3" fill="#fff"/><text x="9" y="-1.8" class="sv">SERVICES</text><text x="9" y="2" class="lo">Lorem ipsum dolor sit amet,</text><text x="9" y="5.5" class="lo">consectetur adipiscing elit</text></g>
<g transform="translate(171,63)"><circle r="5" fill="#2e8fd6"/><circle r="2" fill="none" stroke="#fff" stroke-width=".9"/><text x="9" y="-1.8" class="sv">SERVICES</text><text x="9" y="2" class="lo">Lorem ipsum dolor sit amet,</text><text x="9" y="5.5" class="lo">consectetur adipiscing elit</text></g>
<g transform="translate(171,85)"><circle r="5" fill="#f29c20"/><circle r="2" fill="none" stroke="#fff" stroke-width=".9"/><text x="9" y="-1.8" class="sv">SERVICES</text><text x="9" y="2" class="lo">Lorem ipsum dolor sit amet,</text><text x="9" y="5.5" class="lo">consectetur adipiscing elit</text></g>
<g transform="translate(171,108)"><circle r="5" fill="#263548"/><rect x="-1.6" y="-2.2" width="3.2" height="4.4" fill="none" stroke="#fff" stroke-width=".8"/><text x="9" y="-1.8" class="sv">SERVICES</text><text x="9" y="2" class="lo">Lorem ipsum dolor sit amet,</text><text x="9" y="5.5" class="lo">consectetur adipiscing elit</text></g>
<polygon points="79,99 116,88.5 153,99 116,109.5" fill="#3f6fd6"/>
<polygon points="79,99 116,109.5 116,118 79,107.5" fill="#1f3b8a"/>
<polygon points="116,109.5 153,99 153,107.5 116,118" fill="#1fae8a"/>
<polygon points="84,83 116,73 148,83 116,93" fill="#8fbf55"/>
<polygon points="84,83 116,93 116,99 84,89" fill="#1f7a5c"/>
<polygon points="116,93 148,83 148,89 116,99" fill="#22a079"/>
<polygon points="91,70 116,62 141,70 116,78" fill="#d11f78"/>
<polygon points="91,70 116,78 116,83 91,75" fill="#5f8a2f"/>
<polygon points="116,78 141,70 141,75 116,83" fill="#7da63a"/>
<polygon points="98,58 116,51.5 134,58 116,64.5" fill="#2c3d50"/>
<polygon points="98,58 116,64.5 116,68.5 98,62" fill="#e58b17"/>
<polygon points="116,64.5 134,58 134,62 116,68.5" fill="#f2a22a"/>
</svg></div>

<div class="s" style="left:542px;top:362px"><svg width="232" height="130" viewBox="0 0 232 130">
<use href="#rays" width="232" height="130"/>
<use href="#wcloud" x="22" y="22" width="64" height="24"/>
<g fill="#fff"><circle cx="15" cy="122" r="16"/><circle cx="45" cy="126" r="14"/><circle cx="130" cy="100" r="16"/><circle cx="160" cy="104" r="18"/><circle cx="200" cy="90" r="16"/><circle cx="228" cy="80" r="16"/><circle cx="232" cy="112" r="20"/><circle cx="190" cy="120" r="14"/><rect x="0" y="118" width="232" height="12"/></g>
<text x="116" y="19.5" class="tt" textLength="104" lengthAdjust="spacingAndGlyphs">Choosing the right life insurance</text>
<text x="116" y="28.5" class="tt" textLength="78" lengthAdjust="spacingAndGlyphs">doesn’t have to be hard.</text>
<rect x="105" y="34.5" width="22" height="1.1" fill="#2bb39b"/>
<path d="M48,66 H26 A7.5,7.5 0 0 1 26,51 H68" fill="none" stroke="#3e73d6" stroke-width="9"/>
<polygon points="67,44.5 79,51 67,57.5" fill="#3e73d6"/>
<path d="M48,82 H78 A7.5,7.5 0 0 0 78,66 H60" fill="none" stroke="#8cba4e" stroke-width="9"/>
<polygon points="61,59.5 49,66 61,72.5" fill="#8cba4e"/>
<path d="M50,98 H26 A7.5,7.5 0 0 1 26,82 H42" fill="none" stroke="#c8176b" stroke-width="9"/>
<polygon points="41,75.5 53,82 41,88.5" fill="#c8176b"/>
<path d="M41,114 H78 A7.5,7.5 0 0 0 78,98 H60" fill="none" stroke="#2a3a4e" stroke-width="9"/>
<polygon points="61,91.5 49,98 61,104.5" fill="#2a3a4e"/>
<g stroke="#a9b4c0" stroke-width=".5"><line x1="96" y1="55" x2="113" y2="55"/><line x1="106" y1="73" x2="123" y2="73"/><line x1="88" y1="90" x2="105" y2="90"/><line x1="100" y1="108" x2="116" y2="108"/></g>
<g transform="translate(125,55)"><polygon points="-3.5,0 0,-3.5 3.5,0" fill="#21ae8c"/><rect x="-2.6" y="0" width="5.2" height="3.2" fill="#21ae8c"/></g>
<g transform="translate(135,73)"><circle r="3.3" fill="#2e8fd6"/><line x1="-1" y1="2" x2="1" y2="-2" stroke="#fff" stroke-width=".9"/></g>
<g transform="translate(119,90)"><rect x="-3.8" y="-2.5" width="5.5" height="4.5" fill="#8cba4e"/><rect x="1.7" y="-1" width="2.3" height="3" fill="#8cba4e"/></g>
<g transform="translate(125,108)"><circle r="3.3" fill="#f29c20"/><circle r="1.5" fill="none" stroke="#fff" stroke-width=".7"/></g>
<text x="138" y="55" font-size="2.2"><tspan fill="#21ae8c" font-weight="bold">Lorem ipsum dolor sit amet,</tspan><tspan fill="#666"> consectetur adipiscing elit.</tspan></text>
<text x="138" y="58" font-size="2.2" fill="#666">Donec fringilla erat malesuada ante.</text>
<text x="148" y="73" font-size="2.2"><tspan fill="#2e8fd6" font-weight="bold">Lorem ipsum dolor sit amet,</tspan><tspan fill="#666"> consectetur adipiscing elit.</tspan></text>
<text x="148" y="76" font-size="2.2" fill="#666">Donec fringilla erat malesuada ante.</text>
<text x="132" y="90" font-size="2.2"><tspan fill="#8cba4e" font-weight="bold">Lorem ipsum dolor sit amet,</tspan><tspan fill="#666"> consectetur adipiscing elit.</tspan></text>
<text x="132" y="93" font-size="2.2" fill="#666">Donec fringilla erat malesuada ante.</text>
<text x="137" y="108" font-size="2.2"><tspan fill="#f29c20" font-weight="bold">Lorem ipsum dolor sit amet,</tspan><tspan fill="#666"> consectetur adipiscing elit.</tspan></text>
<text x="137" y="111" font-size="2.2" fill="#666">Donec fringilla erat malesuada ante.</text>
</svg></div>

<!-- ROW 4 -->
<div class="s" style="left:26px;top:532px"><svg width="232" height="130" viewBox="0 0 232 130">
<use href="#rays" width="232" height="130"/>
<use href="#wcloud" x="30" y="22" width="62" height="22"/>
<use href="#wcloud" x="170" y="50" width="50" height="18"/>
<g fill="#fff"><circle cx="15" cy="124" r="16"/><circle cx="45" cy="128" r="14"/><circle cx="90" cy="126" r="14"/><circle cx="140" cy="124" r="14"/><circle cx="190" cy="120" r="16"/><circle cx="226" cy="100" r="18"/><circle cx="232" cy="124" r="18"/><rect x="0" y="118" width="232" height="12"/></g>
<g stroke="#aab5c1" stroke-width=".5"><line x1="38" y1="60" x2="38" y2="77"/><line x1="88" y1="48" x2="88" y2="76"/><line x1="138" y1="58" x2="138" y2="75"/><line x1="189" y1="50" x2="189" y2="74"/></g>
<g fill="#aab5c1"><circle cx="38" cy="60" r=".8"/><circle cx="88" cy="48" r=".8"/><circle cx="138" cy="58" r=".8"/><circle cx="189" cy="50" r=".8"/></g>
<circle cx="34" cy="99" r="16.5" fill="#4a9ddc"/><circle cx="34" cy="99" r="17.8" fill="none" stroke="#4a9ddc" stroke-width="3" pathLength="36" stroke-dasharray="1 1"/>
<circle cx="74" cy="84" r="21" fill="#4e5b6e"/><circle cx="74" cy="84" r="22.5" fill="none" stroke="#4e5b6e" stroke-width="3" pathLength="44" stroke-dasharray="1 1"/>
<circle cx="114" cy="78" r="14.5" fill="#d0338a"/><circle cx="114" cy="78" r="15.8" fill="none" stroke="#d0338a" stroke-width="2.6" pathLength="32" stroke-dasharray="1 1"/>
<circle cx="147" cy="93" r="19" fill="#9dc46e"/><circle cx="147" cy="93" r="20.5" fill="none" stroke="#9dc46e" stroke-width="3" pathLength="40" stroke-dasharray="1 1"/>
<circle cx="192" cy="86" r="21" fill="#f2a643"/><circle cx="192" cy="86" r="22.5" fill="none" stroke="#f2a643" stroke-width="3" pathLength="44" stroke-dasharray="1 1"/>
<text x="42" y="42.5" class="svr">SERVICES</text>
<text x="42" y="46.5" class="lor">Lorem ipsum dolor sit</text><text x="42" y="50" class="lor">amet, consectetur</text><text x="42" y="53.5" class="lor">adipiscing elit</text>
<rect x="44" y="41" width="11" height="9" rx="1.5" fill="#f2a93a"/><rect x="46" y="43.5" width="3" height="3" fill="#fff"/>
<text x="95" y="29.5" class="svr">SERVICES</text>
<text x="95" y="33.5" class="lor">Lorem ipsum dolor sit</text><text x="95" y="37" class="lor">amet, consectetur</text><text x="95" y="40.5" class="lor">adipiscing elit</text>
<rect x="98" y="26" width="8.5" height="10" fill="#2e8fd6"/><rect x="100" y="28" width="3" height="3" fill="#fff"/>
<polygon points="124,46 127,40 133,36 132,42 127,46" fill="#21ae8c"/>
<text x="137" y="40.5" class="sv">SERVICES</text>
<text x="137" y="44.5" class="lo">Lorem ipsum dolor sit</text><text x="137" y="48" class="lo">amet, consectetur</text><text x="137" y="51.5" class="lo">adipiscing elit</text>
<rect x="179.5" y="32.5" width="9" height="9.5" fill="none" stroke="#8cba4e" stroke-width="1"/><rect x="181.5" y="36.5" width="5" height="3" fill="#8cba4e"/>
<text x="193" y="37" class="sv">SERVICES</text>
<text x="193" y="41" class="lo">Lorem ipsum dolor sit</text><text x="193" y="44.5" class="lo">amet, consectetur</text><text x="193" y="48" class="lo">adipiscing elit</text>
</svg></div>

<div class="s" style="left:284px;top:532px"><svg width="232" height="130" viewBox="0 0 232 130">
<rect width="232" height="130" fill="url(#sky)"/>
<use href="#city" x="0" y="98" width="232" height="32"/>
<rect y="124" width="232" height="6" fill="#eef0f4"/>
<use href="#cloud" x="39" y="4" width="30" height="13"/>
<use href="#cloud" x="184" y="19" width="35" height="13"/>
<use href="#cloud" x="3" y="38" width="34" height="14"/>
<text x="116" y="18.5" class="tt" textLength="104" lengthAdjust="spacingAndGlyphs">Choosing the right life insurance</text>
<text x="116" y="27.5" class="tt" textLength="78" lengthAdjust="spacingAndGlyphs">doesn’t have to be hard.</text>
<rect x="105" y="34" width="22" height="1.1" fill="#2bb39b"/>
<g stroke="#cfd8e0" stroke-width=".6"><line x1="116" y1="59" x2="116" y2="85"/><line x1="91" y1="76" x2="140" y2="76"/><line x1="99" y1="103" x2="132" y2="103"/></g>
<circle cx="116" cy="59" r="10" fill="#2e8fd6"/>
<circle cx="91" cy="76" r="10" fill="#2a3a4e"/>
<circle cx="140" cy="76" r="10" fill="#8cba4e"/>
<circle cx="116" cy="85" r="10" fill="#21ae8c"/>
<circle cx="99" cy="103" r="10" fill="#c81a6e"/>
<circle cx="132" cy="103" r="10" fill="#f29c20"/>
<text x="57" y="57" class="svr">SERVICES</text>
<text x="57" y="61" class="lor">Lorem ipsum dolor sit</text><text x="57" y="64.5" class="lor">amet, consectetur</text><text x="57" y="68" class="lor">adipiscing elit</text>
<rect x="60" y="54.5" width="11" height="10" rx="1.5" fill="#f2a93a"/><rect x="62" y="57.5" width="3" height="3" fill="#fff"/>
<line x1="74" y1="60" x2="99" y2="60" stroke="#e9b36a" stroke-width=".4"/>
<text x="45" y="90" class="svr">SERVICES</text>
<text x="45" y="94" class="lor">Lorem ipsum dolor sit</text><text x="45" y="97.5" class="lor">amet, consectetur</text><text x="45" y="101" class="lor">adipiscing elit</text>
<rect x="48" y="87" width="9" height="9.5" fill="#2e8fd6"/><rect x="50" y="89" width="3" height="3" fill="#fff"/>
<polyline points="59,93 66,101 83,101" fill="none" stroke="#3aa9a0" stroke-width=".4"/>
<polygon points="169,53 172,47 178,43 177,49 172,53" fill="#21ae8c"/>
<text x="184" y="45" class="sv">SERVICES</text>
<text x="184" y="49" class="lo">Lorem ipsum dolor sit</text><text x="184" y="52.5" class="lo">amet, consectetur</text><text x="184" y="56" class="lo">adipiscing elit</text>
<polyline points="146,53 152,49 166,49" fill="none" stroke="#3aa9a0" stroke-width=".4"/>
<rect x="162" y="91.5" width="8.5" height="9.5" fill="none" stroke="#8cba4e" stroke-width="1"/><rect x="164" y="95.5" width="4.5" height="3" fill="#8cba4e"/>
<text x="175" y="95" class="sv">SERVICES</text>
<text x="175" y="99" class="lo">Lorem ipsum dolor sit</text><text x="175" y="102.5" class="lo">amet, consectetur</text><text x="175" y="106" class="lo">adipiscing elit</text>
<line x1="143" y1="97" x2="159" y2="97" stroke="#b5c96a" stroke-width=".4"/>
</svg></div>

<div class="s" style="left:542px;top:532px"><svg width="232" height="130" viewBox="0 0 232 130">
<rect width="232" height="130" fill="url(#sky)"/>
<use href="#city" x="0" y="100" width="232" height="30"/>
<rect y="122" width="232" height="8" fill="#f3f5f8"/>
<use href="#cloud" x="40" y="7" width="27" height="12"/>
<use href="#cloud" x="183" y="18" width="36" height="13"/>
<use href="#cloud" x="4" y="38" width="34" height="13"/>
<text x="116" y="18.5" class="tt" textLength="104" lengthAdjust="spacingAndGlyphs">Choosing the right life insurance</text>
<text x="116" y="27.5" class="tt" textLength="78" lengthAdjust="spacingAndGlyphs">doesn’t have to be hard.</text>
<rect x="105" y="34" width="22" height="1.1" fill="#2bb39b"/>
<g stroke="#e4e9ee" stroke-width=".4"><line x1="24" y1="51.5" x2="212" y2="51.5"/><line x1="24" y1="65" x2="212" y2="65"/><line x1="24" y1="78.7" x2="212" y2="78.7"/><line x1="24" y1="92.3" x2="212" y2="92.3"/><line x1="24" y1="105.9" x2="212" y2="105.9"/><line x1="24" y1="119.5" x2="212" y2="119.5"/></g>
<g font-size="3.2" fill="#444" text-anchor="middle"><text x="19" y="52.5">5</text><text x="19" y="66">4</text><text x="19" y="79.7">3</text><text x="19" y="93.3">2</text><text x="19" y="106.9">1</text><text x="19" y="120.5">0</text></g>
<g fill="#f29c20"><rect x="31" y="67.8" width="8.5" height="51.7"/><rect x="69" y="90.9" width="8.5" height="28.6"/><rect x="106" y="93.7" width="8.5" height="25.8"/><rect x="143" y="78.7" width="8.5" height="40.8"/><rect x="181" y="73.3" width="8.5" height="46.2"/></g>
<g fill="#2e8fd6"><rect x="39.5" y="74.6" width="8.5" height="44.9"/><rect x="77.5" y="65.1" width="8.5" height="54.4"/><rect x="114.5" y="92.3" width="8.5" height="27.2"/><rect x="151.5" y="66.5" width="8.5" height="53"/><rect x="189.5" y="80.1" width="8.5" height="39.4"/></g>
<g fill="#22b08e"><rect x="48" y="63.7" width="8.5" height="55.8"/><rect x="86" y="78.7" width="8.5" height="40.8"/><rect x="123" y="78.7" width="8.5" height="40.8"/><rect x="160" y="80.1" width="8.5" height="39.4"/><rect x="198" y="70.5" width="8.5" height="49"/></g>
<g font-size="3.2" font-weight="bold" fill="#333" text-anchor="middle"><text x="52.5" y="62">4.1</text><text x="90.5" y="77">3</text><text x="127.5" y="77">3</text><text x="164.5" y="78.5">2.9</text><text x="202.5" y="69">3.6</text></g>
</svg></div>

<!-- ROW 5 -->
<div class="s" style="left:26px;top:701px"><svg width="232" height="130" viewBox="0 0 232 130">
<rect width="232" height="130" fill="url(#sky)"/>
<use href="#city" x="20" y="98" width="190" height="32"/>
<rect y="124" width="232" height="6" fill="#eef0f4"/>
<use href="#cloud" x="39" y="6" width="28" height="13"/>
<use href="#cloud" x="184" y="19" width="35" height="13"/>
<use href="#cloud" x="4" y="39" width="35" height="14"/>
<text x="116" y="18.5" class="tt" textLength="104" lengthAdjust="spacingAndGlyphs">Choosing the right life insurance</text>
<text x="116" y="27.5" class="tt" textLength="78" lengthAdjust="spacingAndGlyphs">doesn’t have to be hard.</text>
<rect x="105" y="34" width="22" height="1.1" fill="#2bb39b"/>
<g stroke="#d5dbe2" stroke-width=".4" stroke-dasharray="1 1.5"><line x1="55" y1="56" x2="136" y2="56"/><line x1="75" y1="70" x2="145" y2="70"/><line x1="95" y1="82" x2="154" y2="82"/><line x1="115" y1="96" x2="162" y2="96"/><line x1="130" y1="108" x2="173" y2="108"/></g>
<g fill="none" stroke-width="6" opacity=".88">
<g stroke="#3cc1a0"><line x1="13" y1="57" x2="36" y2="80"/><polyline points="19,82 38,82 38,63"/></g>
<g stroke="#3e92d6"><line x1="37" y1="65" x2="62" y2="89"/><polyline points="44,91 64,91 64,71"/></g>
<g stroke="#8dbb50"><line x1="62" y1="73" x2="102" y2="112"/><polyline points="82,113 104,113 104,93"/></g>
<g stroke="#f2a22a"><line x1="102" y1="97" x2="124" y2="120"/><polyline points="107,122 126,122 126,102"/></g>
</g>
<circle cx="141" cy="56" r="4" fill="#c81a6e"/><circle cx="141" cy="56" r="1.6" fill="none" stroke="#fff" stroke-width=".7"/>
<circle cx="150" cy="70" r="4" fill="#f29c20"/><circle cx="150" cy="70" r="1.6" fill="none" stroke="#fff" stroke-width=".7"/>
<circle cx="159" cy="82" r="4" fill="#8cba4e"/><circle cx="159" cy="82" r="1.6" fill="none" stroke="#fff" stroke-width=".7"/>
<circle cx="167" cy="96" r="4" fill="#2e8fd6"/><circle cx="167" cy="96" r="1.6" fill="none" stroke="#fff" stroke-width=".7"/>
<circle cx="178" cy="108" r="4" fill="#21ae8c"/><circle cx="178" cy="108" r="1.6" fill="none" stroke="#fff" stroke-width=".7"/>
<text x="148" y="55" class="lo">Lorem ipsum dolor sit amet,</text><text x="148" y="58.5" class="lo">consectetur adipiscing elit.</text>
<text x="157" y="69" class="lo">Lorem ipsum dolor sit amet,</text><text x="157" y="72.5" class="lo">consectetur adipiscing elit.</text>
<text x="166" y="81" class="lo">Lorem ipsum dolor sit amet,</text><text x="166" y="84.5" class="lo">consectetur adipiscing elit.</text>
<text x="174" y="95" class="lo">Lorem ipsum dolor sit amet,</text><text x="174" y="98.5" class="lo">consectetur adipiscing elit.</text>
<text x="185" y="107" class="lo">Lorem ipsum dolor sit amet,</text><text x="185" y="110.5" class="lo">consectetur adipiscing elit.</text>
</svg></div>

<div class="s" style="left:284px;top:701px"><svg width="232" height="130" viewBox="0 0 232 130">
<rect width="232" height="130" fill="url(#sky)"/>
<use href="#city" x="20" y="96" width="200" height="34"/>
<rect y="124" width="232" height="6" fill="#eef0f4"/>
<use href="#cloud" x="39" y="6" width="28" height="13"/>
<use href="#cloud" x="184" y="19" width="35" height="13"/>
<use href="#cloud" x="3" y="39" width="34" height="13"/>
<text x="116" y="18.5" class="tt" textLength="104" lengthAdjust="spacingAndGlyphs">Choosing the right life insurance</text>
<text x="116" y="27.5" class="tt" textLength="78" lengthAdjust="spacingAndGlyphs">doesn’t have to be hard.</text>
<rect x="105" y="34.5" width="22" height="1.1" fill="#2bb39b"/>
<g>
<rect x="41" y="42" width="45" height="8" fill="#1f6fae"/><rect x="41" y="50" width="45" height="18" fill="#2f8fd8"/>
<rect x="41" y="68" width="45" height="43" fill="#f7f8fa" stroke="#dde1e6" stroke-width=".4"/><rect x="41" y="111" width="45" height="9" fill="#2f8fd8"/>
<rect x="93" y="42" width="45" height="8" fill="#6f9a35"/><rect x="93" y="50" width="45" height="18" fill="#8dbb4c"/>
<rect x="93" y="68" width="45" height="43" fill="#f7f8fa" stroke="#dde1e6" stroke-width=".4"/><rect x="93" y="111" width="45" height="9" fill="#8dbb4c"/>
<rect x="146" y="42" width="45" height="8" fill="#c87510"/><rect x="146" y="50" width="45" height="18" fill="#f0a020"/>
<rect x="146" y="68" width="45" height="43" fill="#f7f8fa" stroke="#dde1e6" stroke-width=".4"/><rect x="146" y="111" width="45" height="9" fill="#f0a020"/>
</g>
<g stroke="#e2e5e9" stroke-width=".4"><line x1="42" y1="80" x2="85" y2="80"/><line x1="42" y1="87" x2="85" y2="87"/><line x1="42" y1="94" x2="85" y2="94"/><line x1="42" y1="101" x2="85" y2="101"/><line x1="94" y1="80" x2="137" y2="80"/><line x1="94" y1="87" x2="137" y2="87"/><line x1="94" y1="94" x2="137" y2="94"/><line x1="94" y1="101" x2="137" y2="101"/><line x1="147" y1="80" x2="190" y2="80"/><line x1="147" y1="87" x2="190" y2="87"/><line x1="147" y1="94" x2="190" y2="94"/><line x1="147" y1="101" x2="190" y2="101"/></g>
<g font-size="3.3" font-weight="bold" fill="#fff" text-anchor="middle"><text x="63.5" y="47.5">SERVICES</text><text x="115.5" y="47.5">SERVICES</text><text x="168.5" y="47.5">SERVICES</text></g>
<g fill="#fff" text-anchor="middle"><text x="63.5" y="62.5"><tspan font-size="4">$</tspan><tspan font-size="8" font-weight="bold">69</tspan><tspan font-size="2.6" dy="-3.5">69</tspan></text><text x="115.5" y="62.5"><tspan font-size="4">$</tspan><tspan font-size="8" font-weight="bold">69</tspan><tspan font-size="2.6" dy="-3.5">69</tspan></text><text x="168.5" y="62.5"><tspan font-size="4">$</tspan><tspan font-size="8" font-weight="bold">69</tspan><tspan font-size="2.6" dy="-3.5">69</tspan></text></g>
<g font-size="2.2" fill="#666" text-anchor="middle">
<text x="63.5" y="77">Expensive Oil Changes Are</text><text x="63.5" y="84">Here to Stay</text><text x="63.5" y="91">What’s Included in a</text><text x="63.5" y="98">Tuneup?</text><text x="63.5" y="105">Change Your Oil Every</text>
<text x="115.5" y="77">Expensive Oil Changes Are</text><text x="115.5" y="84">Here to Stay</text><text x="115.5" y="91">What’s Included in a</text><text x="115.5" y="98">Tuneup?</text><text x="115.5" y="105">Change Your Oil Every</text>
<text x="168.5" y="77">Expensive Oil Changes Are</text><text x="168.5" y="84">Here to Stay</text><text x="168.5" y="91">What’s Included in a</text><text x="168.5" y="98">Tuneup?</text><text x="168.5" y="105">Change Your Oil Every</text>
</g>
</svg></div>

<div class="s" style="left:542px;top:701px"><svg width="232" height="130" viewBox="0 0 232 130">
<use href="#rays" width="232" height="130"/>
<use href="#wcloud" x="20" y="22" width="66" height="24"/>
<use href="#wcloud" x="160" y="56" width="48" height="18"/>
<g fill="#fff"><circle cx="15" cy="124" r="16"/><circle cx="45" cy="128" r="14"/><circle cx="110" cy="100" r="16"/><circle cx="130" cy="106" r="18"/><circle cx="100" cy="122" r="16"/><circle cx="170" cy="120" r="14"/><circle cx="205" cy="108" r="16"/><circle cx="228" cy="90" r="16"/><circle cx="232" cy="118" r="20"/><rect x="0" y="118" width="232" height="12"/></g>
<text x="116" y="18.5" class="tt" textLength="104" lengthAdjust="spacingAndGlyphs">Choosing the right life insurance</text>
<text x="116" y="27.5" class="tt" textLength="78" lengthAdjust="spacingAndGlyphs">doesn’t have to be hard.</text>
<rect x="105" y="34" width="22" height="1.1" fill="#2bb39b"/>
<rect x="101" y="44" width="10" height="14" fill="#23ae8c"/><polygon points="95,57 117,57 106,71" fill="#23ae8c"/>
<rect x="137" y="65" width="14" height="10" fill="#2e8fd6"/><polygon points="138,60 138,80 124,70" fill="#2e8fd6"/>
<rect x="80" y="85" width="14" height="10" fill="#8cba4e"/><polygon points="93,80 93,100 107,90" fill="#8cba4e"/>
<rect x="121" y="100" width="11" height="16" fill="#f29c20"/><polygon points="117,101 136,101 126.5,88" fill="#f29c20"/>
<text x="56" y="57" class="svr">SERVICES</text>
<text x="56" y="61" class="lor">Lorem ipsum dolor sit</text><text x="56" y="64.5" class="lor">amet, consectetur</text><text x="56" y="68" class="lor">adipiscing elit</text>
<rect x="60" y="55.5" width="10" height="9" rx="1.5" fill="#f2a93a"/><rect x="62" y="58" width="3" height="3" fill="#fff"/>
<line x1="72" y1="60" x2="96" y2="60" stroke="#e9b36a" stroke-width=".4"/>
<text x="45" y="89" class="svr">SERVICES</text>
<text x="45" y="93" class="lor">Lorem ipsum dolor sit</text><text x="45" y="96.5" class="lor">amet, consectetur</text><text x="45" y="100" class="lor">adipiscing elit</text>
<rect x="48" y="88" width="8.5" height="9" fill="#2e8fd6"/><rect x="50" y="90" width="3" height="3" fill="#fff"/>
<polyline points="60,94 67,102 81,102" fill="none" stroke="#3aa9a0" stroke-width=".4"/>
<polygon points="170,54 173,48 179,44 178,50 173,54" fill="#21ae8c"/>
<text x="183" y="46" class="sv">SERVICES</text>
<text x="183" y="50" class="lo">Lorem ipsum dolor sit</text><text x="183" y="53.5" class="lo">amet, consectetur</text><text x="183" y="57" class="lo">adipiscing elit</text>
<polyline points="145,53 151,49 165,49" fill="none" stroke="#3aa9a0" stroke-width=".4"/>
<rect x="161.5" y="92" width="9" height="9" fill="none" stroke="#8cba4e" stroke-width="1"/><rect x="163.5" y="96" width="5" height="3" fill="#8cba4e"/>
<text x="175" y="95" class="sv">SERVICES</text>
<text x="175" y="99" class="lo">Lorem ipsum dolor sit</text><text x="175" y="102.5" class="lo">amet, consectetur</text><text x="175" y="106" class="lo">adipiscing elit</text>
<line x1="138" y1="99" x2="158" y2="99" stroke="#b5c96a" stroke-width=".4"/>
</svg></div>

<!-- watermark -->
<svg style="position:absolute;left:632px;top:795px;filter:drop-shadow(1px 1px 1.5px rgba(0,0,0,.55))" width="36" height="36" viewBox="0 0 36 36">
<path d="M28 9 A12 12 0 1 0 30 20 L18 20" fill="none" stroke="#fff" stroke-width="4.5"/>
<path d="M23 13 A6 6 0 1 0 24 21" fill="none" stroke="#fff" stroke-width="2.5"/>
</svg>
<div style="position:absolute;left:676px;top:801px;font:bold 15px/15px 'Liberation Sans',sans-serif;color:#fff;letter-spacing:.5px;text-shadow:1px 1px 2px rgba(0,0,0,.6);white-space:nowrap">GFXAA.COM</div>
<div style="position:absolute;left:677px;top:817px;font:9px/10px 'Liberation Sans','Noto Sans CJK SC',sans-serif;color:#fff;letter-spacing:5px;text-shadow:1px 1px 2px rgba(0,0,0,.6);white-space:nowrap">页 类PPT</div>

</body></html>
